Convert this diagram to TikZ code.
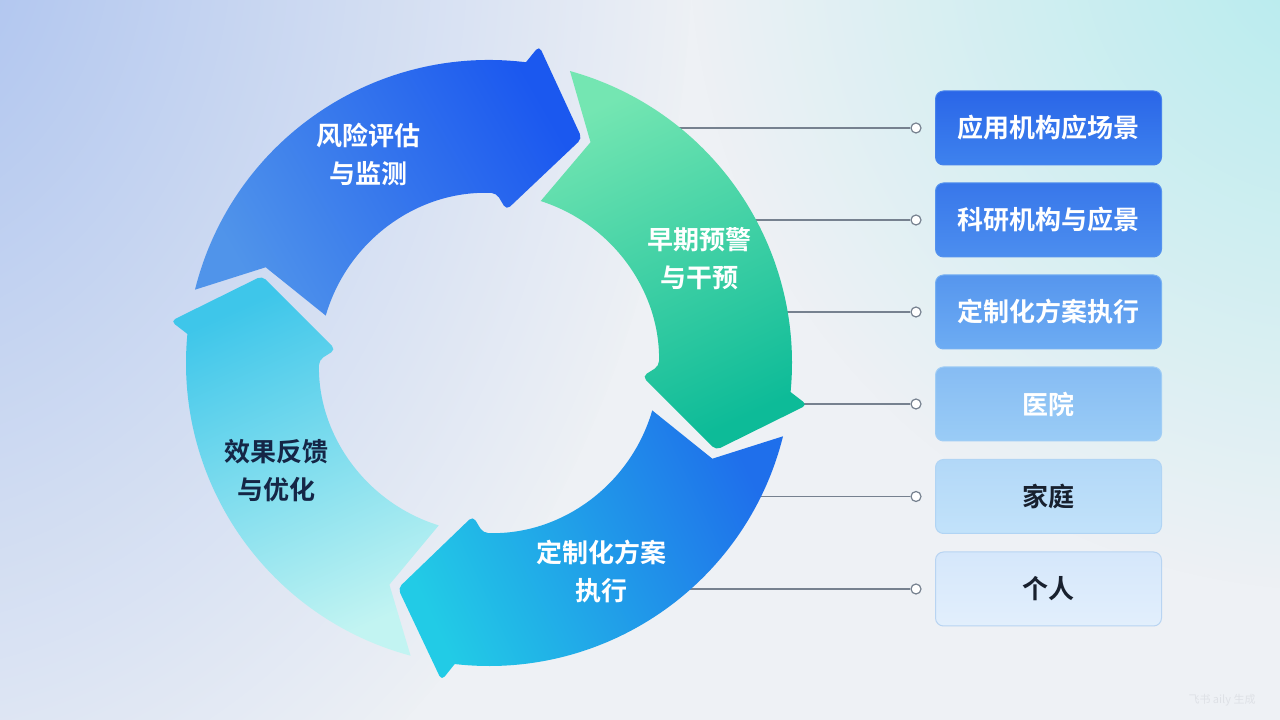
\documentclass[tikz,border=0pt]{standalone}
\usepackage{fontspec}
\setmainfont{Noto Sans CJK SC}[BoldFont={Noto Sans CJK SC Bold}]
\usetikzlibrary{fadings}
\definecolor{bgbase}{HTML}{EEF1F5}
\definecolor{glowL}{HTML}{A8C0EF}
\definecolor{glowR}{HTML}{B4ECEE}
\definecolor{connC}{HTML}{76818F}
\definecolor{darktext}{HTML}{18202E}
\definecolor{navytext}{HTML}{152646}
\definecolor{segAa}{HTML}{1B58EF}
\definecolor{segAb}{HTML}{5094EA}
\definecolor{segBa}{HTML}{74E6B2}
\definecolor{segBb}{HTML}{0DBB98}
\definecolor{segCa}{HTML}{1F6FEB}
\definecolor{segCb}{HTML}{22CBE6}
\definecolor{segDa}{HTML}{3EC6EA}
\definecolor{segDb}{HTML}{C2F4F2}
\tikzfading[name=glowfade, inner color=transparent!0, outer color=transparent!100]
\newcommand\RingSeg[3]{%
  \path[#3] (#2+7:303) arc[start angle={#2+7}, end angle={#1+15.5}, radius=303]
    {[rounded corners=5pt] -- (#1+13.5:321) -- (#1:243) -- (#1+16:154) -- (#1+20:170)}
    arc[start angle={#1+20}, end angle={#2+4.8}, radius=170]
    -- (#2-2.2:243) -- cycle;}
\begin{document}
\begin{tikzpicture}[x=1pt,y=1pt,
  seglabel/.style={font=\bfseries\fontsize{26pt}{38pt}\selectfont, align=center, text=white},
  tagbox/.style={rounded corners=8pt, minimum width=226pt, minimum height=74pt,
    font=\bfseries\fontsize{26pt}{30pt}\selectfont, inner sep=0pt, line width=1pt},
  conn/.style={draw=connC, line width=1.4pt},
  dot/.style={circle, draw=connC, fill=white, line width=1.2pt, minimum size=10pt, inner sep=0pt}]
\useasboundingbox (0,0) rectangle (1280,720);
% background
\begin{scope}
\clip (0,0) rectangle (1280,720);
\fill[bgbase] (0,0) rectangle (1280,720);
\fill[glowL, path fading=glowfade] (-120,800) ellipse [x radius=820, y radius=1050];
\fill[glowR, path fading=glowfade] (1340,780) circle (650);
\end{scope}
% connector start points on ring
\coordinate (s1) at (674,592);
\coordinate (s2) at (749,500);
\coordinate (s3) at (781,408);
\coordinate (s4) at (782,316);
\coordinate (s5) at (754,223.5);
\coordinate (s6) at (683,131);
% dots
\node[dot] (d1) at (916,592) {};
\node[dot] (d2) at (916,500) {};
\node[dot] (d3) at (916,408) {};
\node[dot] (d4) at (916,316) {};
\node[dot] (d5) at (916,223.5) {};
\node[dot] (d6) at (916,131) {};
\foreach \i in {1,...,6} { \draw[conn] (s\i) -- (d\i); }
% ring
\begin{scope}[shift={(489,357)}]
\RingSeg{67.5}{159}{top color=segAa, bottom color=segAb, shading angle=-60}
\RingSeg{-21}{67.5}{top color=segBa, bottom color=segBb, shading angle=25}
\RingSeg{-112}{-21}{top color=segCa, bottom color=segCb, shading angle=-65}
\RingSeg{159}{248}{top color=segDa, bottom color=segDb, shading angle=24}
\end{scope}
% ring labels
\node[seglabel] (l1) at (368,566) {风险评估\\与监测};
\node[seglabel] (l2) at (699,461) {早期预警\\与干预};
\node[seglabel] (l3) at (601,148) {定制化方案\\执行};
\node[seglabel, text=navytext] (l4) at (276,249) {效果反馈\\与优化};
% boxes
\node[tagbox, top color={rgb,255:red,42;green,102;blue,232}, bottom color={rgb,255:red,62;green,130;blue,238}, draw={rgb,255:red,70;green,130;blue,236}, text=white] (b1) at (1048.5,592) {应用机构应场景};
\node[tagbox, top color={rgb,255:red,56;green,119;blue,234}, bottom color={rgb,255:red,76;green,142;blue,239}, draw={rgb,255:red,84;green,146;blue,238}, text=white] (b2) at (1048.5,500) {科研机构与应景};
\node[tagbox, top color={rgb,255:red,86;green,150;blue,238}, bottom color={rgb,255:red,109;green,172;blue,243}, draw={rgb,255:red,118;green,176;blue,242}, text=white] (b3) at (1048.5,408) {定制化方案执行};
\node[tagbox, top color={rgb,255:red,134;green,188;blue,243}, bottom color={rgb,255:red,154;green,204;blue,246}, draw={rgb,255:red,160;green,205;blue,245}, text=white] (b4) at (1048.5,316) {医院};
\node[tagbox, top color={rgb,255:red,178;green,216;blue,248}, bottom color={rgb,255:red,194;green,226;blue,250}, draw={rgb,255:red,176;green,212;blue,244}, text=darktext] (b5) at (1048.5,223.5) {家庭};
\node[tagbox, top color={rgb,255:red,213;green,231;blue,251}, bottom color={rgb,255:red,226;green,239;blue,252}, draw={rgb,255:red,184;green,212;blue,242}, text=darktext] (b6) at (1048.5,131) {个人};
% watermark
\node[text={rgb,255:red,222;green,225;blue,230}, font=\fontsize{11pt}{13pt}\selectfont] (wm) at (1222,20) {飞书 aily 生成};
\end{tikzpicture}
\end{document}
